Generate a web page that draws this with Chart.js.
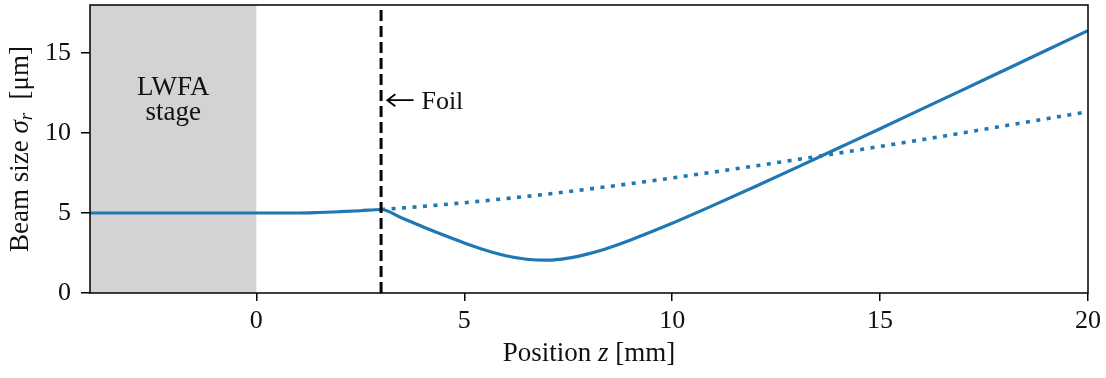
<!DOCTYPE html>
<html>
<head>
<meta charset="utf-8">
<script src="https://cdn.jsdelivr.net/npm/chart.js@4.4.1/dist/chart.umd.min.js"></script>
<style>
  html, body { margin: 0; padding: 0; background: #fff; }
  #wrap { width: 1106px; height: 378px; }
</style>
</head>
<body>
<div id="wrap"><canvas id="beamChart"></canvas></div>
<script>
// Beam size along the propagation axis
const solidZ = [-4, -3, -2, -1, 0, 0.5, 1, 1.5, 2, 2.5, 3,
  3.5, 4, 4.5, 5, 5.5, 6, 6.5, 7, 7.5, 8, 8.5, 9, 10, 11, 12, 13, 14, 15, 16, 17, 18, 19, 20];
const solidSigma = [5, 5, 5, 5, 5, 5, 5.0, 5.03, 5.08, 5.14, 5.22,
  4.69, 4.14, 3.62, 3.13, 2.69, 2.33, 2.11, 2.05, 2.18, 2.46, 2.85, 3.32, 4.36, 5.49, 6.66, 7.85, 9.06, 10.27, 11.49, 12.71, 13.94, 15.17, 16.4];
const dottedZ = [3, 4, 5, 6, 7, 8, 9, 10, 11, 12, 13, 14, 15, 16, 17, 18, 19, 20];
const dottedSigma = [5.22, 5.41, 5.64, 5.90, 6.18, 6.50, 6.83, 7.19, 7.56, 7.94, 8.34, 8.74, 9.16, 9.58, 10.01, 10.45, 10.89, 11.33];

const stageRange = [-4, 0];
const foilZ = 3;
const xTicks = [0, 5, 10, 15, 20];
const yTicks = [0, 5, 10, 15];
const xRange = [-4, 20];
const yRange = [0, 18];

const blue = '#1f77b4';
const ink = '#111';
const serif = '"Liberation Serif", "DejaVu Serif", serif';

function toPoints(xs, ys) {
  return xs.map((x, i) => ({ x: x, y: ys[i] }));
}

// shaded stage, frame, labels and annotation
const decorPlugin = {
  id: 'decor',
  beforeDatasetsDraw(chart) {
    const { ctx, chartArea, scales } = chart;
    const x0 = scales.x.getPixelForValue(stageRange[0]);
    const x1 = scales.x.getPixelForValue(stageRange[1]);
    ctx.save();
    ctx.fillStyle = '#d3d3d3';
    ctx.fillRect(x0, chartArea.top, x1 - x0, chartArea.bottom - chartArea.top);

    ctx.fillStyle = ink;
    ctx.textAlign = 'center';
    ctx.textBaseline = 'alphabetic';
    const cx = scales.x.getPixelForValue((stageRange[0] + stageRange[1]) / 2);
    ctx.font = '27px ' + serif;
    ctx.fillText('LWFA', cx, 95);
    ctx.fillText('stage', cx, 120);
    ctx.restore();
  },
  afterDraw(chart) {
    const { ctx, chartArea, scales } = chart;
    ctx.save();
    ctx.strokeStyle = '#000';
    ctx.lineWidth = 1.5;
    ctx.strokeRect(chartArea.left, chartArea.top, chartArea.right - chartArea.left, chartArea.bottom - chartArea.top);

    // Foil arrow
    const ay = scales.y.getPixelForValue(12.05);
    const tip = scales.x.getPixelForValue(3.15);
    const tail = scales.x.getPixelForValue(3.78);
    ctx.lineWidth = 1.8;
    ctx.beginPath();
    ctx.moveTo(tail, ay);
    ctx.lineTo(tip, ay);
    ctx.moveTo(tip + 8, ay - 6);
    ctx.lineTo(tip, ay);
    ctx.lineTo(tip + 8, ay + 6);
    ctx.stroke();
    ctx.fillStyle = ink;
    ctx.font = '26px ' + serif;
    ctx.textAlign = 'left';
    ctx.textBaseline = 'alphabetic';
    ctx.fillText('Foil', scales.x.getPixelForValue(3.97), ay + 9);

    // x axis title
    const parts = [
      { t: 'Position ', f: '27px ' + serif },
      { t: 'z', f: 'italic 27px ' + serif },
      { t: ' [mm]', f: '27px ' + serif }
    ];
    let w = 0;
    parts.forEach(p => { ctx.font = p.f; w += ctx.measureText(p.t).width; });
    let px = (chartArea.left + chartArea.right) / 2 - w / 2;
    parts.forEach(p => { ctx.font = p.f; ctx.fillText(p.t, px, 361); px += ctx.measureText(p.t).width; });

    // y axis title
    const yparts = [
      { t: 'Beam size ', f: '27px ' + serif, dy: 0 },
      { t: 'σ', f: 'italic 27px ' + serif, dy: 0 },
      { t: 'r', f: 'italic 19px ' + serif, dy: 4 },
      { t: '  [μm]', f: '27px ' + serif, dy: 0 }
    ];
    w = 0;
    yparts.forEach(p => { ctx.font = p.f; w += ctx.measureText(p.t).width; });
    ctx.translate(28, (chartArea.top + chartArea.bottom) / 2);
    ctx.rotate(-Math.PI / 2);
    px = -w / 2;
    yparts.forEach(p => { ctx.font = p.f; ctx.fillText(p.t, px, p.dy); px += ctx.measureText(p.t).width; });
    ctx.restore();
  }
};

new Chart(document.getElementById('beamChart'), {
  type: 'scatter',
  data: {
    datasets: [
      {
        label: 'foil',
        data: toPoints([foilZ, foilZ], [yRange[0], yRange[1]]),
        showLine: true,
        borderColor: '#000',
        borderWidth: 3,
        borderDash: [11, 5],
        pointRadius: 0,
        order: 0
      },
      {
        label: 'with foil',
        data: toPoints(solidZ, solidSigma),
        showLine: true,
        borderColor: blue,
        borderWidth: 3.2,
        cubicInterpolationMode: 'monotone',
        pointRadius: 0,
        order: 1
      },
      {
        label: 'without foil',
        data: toPoints(dottedZ, dottedSigma),
        showLine: true,
        borderColor: blue,
        borderWidth: 3.6,
        borderDash: [4, 6.5],
        pointRadius: 0,
        order: 1
      }
    ]
  },
  options: {
    responsive: true,
    maintainAspectRatio: false,
    animation: false,
    layout: { padding: { top: 5, right: 18, left: 0, bottom: 0 } },
    plugins: { legend: { display: false }, tooltip: { enabled: false } },
    scales: {
      x: {
        type: 'linear',
        min: xRange[0],
        max: xRange[1],
        afterBuildTicks: s => { s.ticks = xTicks.map(v => ({ value: v })); },
        afterFit: s => { s.height = 85; s.paddingLeft = 0; s.paddingRight = 0; },
        grid: { drawOnChartArea: false, drawTicks: true, tickLength: 8, color: '#000', lineWidth: 1.5 },
        border: { display: false },
        ticks: { color: ink, font: { family: serif, size: 26 }, padding: 5, maxRotation: 0 }
      },
      y: {
        type: 'linear',
        min: yRange[0],
        max: yRange[1],
        afterBuildTicks: s => { s.ticks = yTicks.map(v => ({ value: v })); },
        afterFit: s => { s.width = 90; s.paddingTop = 0; s.paddingBottom = 0; },
        grid: { drawOnChartArea: false, drawTicks: true, tickLength: 9, color: '#000', lineWidth: 1.5 },
        border: { display: false },
        ticks: { color: ink, font: { family: serif, size: 26 }, padding: 10 }
      }
    }
  },
  plugins: [decorPlugin]
});
</script>
</body>
</html>
